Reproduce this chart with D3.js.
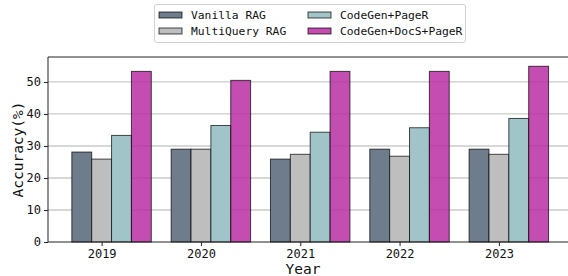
<!DOCTYPE html>
<html>
<head>
<meta charset="utf-8">
<script src="https://cdn.jsdelivr.net/npm/d3@7"></script>
<style>
    body { margin: 0; background: #fff; }
    svg { display: block; }
    text { font-family: "DejaVu Sans Mono", monospace; fill: #111; }
</style>
</head>
<body>
<svg width="568" height="276"></svg>
<script>
// data
var years = ["2019", "2020", "2021", "2022", "2023"];
var seriesNames = ["Vanilla RAG", "MultiQuery RAG", "CodeGen+PageR", "CodeGen+DocS+PageR"];
var vanilla = [28.1, 29.0, 25.9, 29.0, 29.0];
var multiQuery = [25.9, 29.0, 27.4, 26.8, 27.4];
var codeGen = [33.3, 36.4, 34.3, 35.7, 38.6];
var codeGenDocs = [53.3, 50.5, 53.3, 53.3, 54.9];
var yTicks = [0, 10, 20, 30, 40, 50];

var colors = ["#6e7c8c", "#bebebe", "#a1c4c8", "#b92ea2"];
var opac = [1, 1, 1, 0.85];

window.onload = main;

function main() {
    var svg = d3.select("svg");
    var series = [vanilla, multiQuery, codeGen, codeGenDocs];

    var left = 48, top = 57, bottom = 242, right = 572.4;
    var barW = 0.2;

    var x = d3.scaleLinear().domain([-0.54, 4.74]).range([left, right]);
    var y = d3.scaleLinear().domain([0, 57.8]).range([bottom, top]);

    // grid
    svg.append("g")
        .selectAll("line")
        .data(yTicks.slice(1))
        .enter()
        .append("line")
        .attr("x1", left)
        .attr("x2", right)
        .attr("y1", d => y(d))
        .attr("y2", d => y(d))
        .attr("stroke", "#cbcbcb")
        .attr("stroke-width", 1.3);

    // bars
    series.forEach(function (vals, j) {
        svg.append("g")
            .selectAll("rect")
            .data(vals)
            .enter()
            .append("rect")
            .attr("x", (d, i) => x(i - 0.3 + j * barW))
            .attr("width", x(barW) - x(0))
            .attr("y", d => y(d))
            .attr("height", d => y(0) - y(d))
            .attr("fill", colors[j])
            .attr("fill-opacity", opac[j])
            .attr("stroke", "#000")
            .attr("stroke-opacity", 0.7)
            .attr("stroke-width", 1);
    });

    // axes
    var yAxis = d3.axisLeft(y).tickValues(yTicks).tickSize(4).tickPadding(3);
    var gy = svg.append("g").attr("transform", "translate(" + left + ",0)").call(yAxis);
    gy.select(".domain").remove();
    gy.selectAll("text").style("font-size", "12px");
    gy.selectAll("line").attr("stroke", "#222");

    var xAxis = d3.axisBottom(x)
        .tickValues(d3.range(years.length))
        .tickFormat(i => years[i])
        .tickSize(4)
        .tickPadding(3);
    var gx = svg.append("g").attr("transform", "translate(0," + bottom + ")").call(xAxis);
    gx.select(".domain").remove();
    gx.selectAll("text").style("font-size", "12px");
    gx.selectAll("line").attr("stroke", "#222");

    // spines
    svg.append("line").attr("x1", left).attr("x2", right).attr("y1", top).attr("y2", top)
        .attr("stroke", "#222").attr("stroke-width", 1);
    svg.append("line").attr("x1", left).attr("x2", right).attr("y1", bottom).attr("y2", bottom)
        .attr("stroke", "#222").attr("stroke-width", 1);
    svg.append("line").attr("x1", left).attr("x2", left).attr("y1", top).attr("y2", bottom)
        .attr("stroke", "#222").attr("stroke-width", 1);

    // axis labels
    svg.append("text")
        .attr("x", 303).attr("y", 274)
        .attr("text-anchor", "middle")
        .style("font-size", "14.5px")
        .text("Year");
    svg.append("text")
        .attr("transform", "translate(23," + (top + bottom) / 2 + ") rotate(-90)")
        .attr("text-anchor", "middle")
        .style("font-size", "14.5px")
        .text("Accuracy(%)");

    // legend
    var lg = svg.append("g");
    lg.append("rect")
        .attr("x", 154.5).attr("y", 4.5)
        .attr("width", 311).attr("height", 38)
        .attr("rx", 2.5)
        .attr("fill", "#fff")
        .attr("stroke", "#d0d0d0");
    var pos = [[159, 15], [159, 31], [308, 15], [308, 31]];
    seriesNames.forEach(function (name, j) {
        lg.append("rect")
            .attr("x", pos[j][0]).attr("y", pos[j][1] - 3)
            .attr("width", 23).attr("height", 6)
            .attr("fill", colors[j])
            .attr("fill-opacity", opac[j])
            .attr("stroke", "#000")
            .attr("stroke-opacity", 0.7);
        lg.append("text")
            .attr("x", pos[j][0] + 32).attr("y", pos[j][1] + 4)
            .style("font-size", "11.3px")
            .text(name);
    });
}
</script>
</body>
</html>
